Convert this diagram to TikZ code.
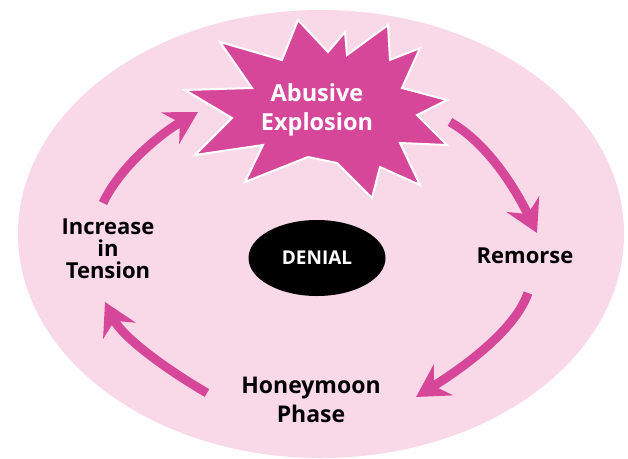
\documentclass[tikz,border=0pt]{standalone}
\usepackage{fontspec}
\setmainfont{Open Sans}
\usepackage{tikz}
\usetikzlibrary{arrows.meta,calc,positioning,shapes}
\definecolor{cyclepink}{HTML}{F9D9E7}
\definecolor{cyclemagenta}{HTML}{D6479A}

\begin{document}
\begin{tikzpicture}[x=1pt,y=-1pt,
line width=9pt,>={Stealth[length=32pt,width=36pt,inset=11pt]},
every node/.style={font=\bfseries\fontsize{22}{22}\selectfont,align=center}]
\tikzstyle{cycle arrow}=[draw=cyclemagenta,->]
\tikzstyle{stage}=[text=black]

\useasboundingbox[fill=white] (0,0) rectangle (628,458);
\fill[cyclepink] (321,234) ellipse [x radius=303pt,y radius=224pt];

\filldraw[fill=cyclemagenta,draw=white,line width=2pt,line join=miter]
(298,20) -- (282,60) -- (220,42) -- (252,88) -- (185,90) -- (232,118)
-- (195,155) -- (263,145) -- (245,182) -- (308,157) -- (337,163)
-- (372,198) -- (380,167) -- (420,185) -- (400,143) -- (447,145)
-- (417,115) -- (447,100) -- (402,88) -- (420,48) -- (390,60)
-- (388,25) -- (347,55) -- (345,32) -- (328,52) -- cycle;

\node[text=white,font=\bfseries\fontsize{23.5}{29}\selectfont] (explosion) at (317,110) {Abusive\\Explosion};
\node[stage] (remorse) at (525,256) {Remorse};
\node[stage,font=\bfseries\fontsize{23}{29}\selectfont] (honeymoon) at (311,400) {Honeymoon\\Phase};
\node[stage] (tension) at (108,249) {Increase\\in\\Tension};
\node[ellipse,fill=black,text=white,minimum width=137pt,minimum height=76pt,
font=\bfseries\fontsize{19}{19}\selectfont] (denial) at (317,258) {DENIAL};

\coordinate (a1s) at (450,122);
\coordinate (a1e) at (537,233);
\coordinate (a2s) at (528,293);
\coordinate (a2e) at (416,397);
\coordinate (a3s) at (207,393);
\coordinate (a3e) at (105,302);
\coordinate (a4s) at (103,203);
\coordinate (a4e) at (198,112);

\path[cycle arrow] (a1s) .. controls (489,144) and (517,192) .. (a1e);
\path[cycle arrow] (a2s) .. controls (514,333) and (456,372) .. (a2e);
\path[cycle arrow] (a3s) .. controls (169,371) and (123,338) .. (a3e);
\path[cycle arrow] (a4s) .. controls (120,167) and (160,134) .. (a4e);
\end{tikzpicture}
\end{document}
